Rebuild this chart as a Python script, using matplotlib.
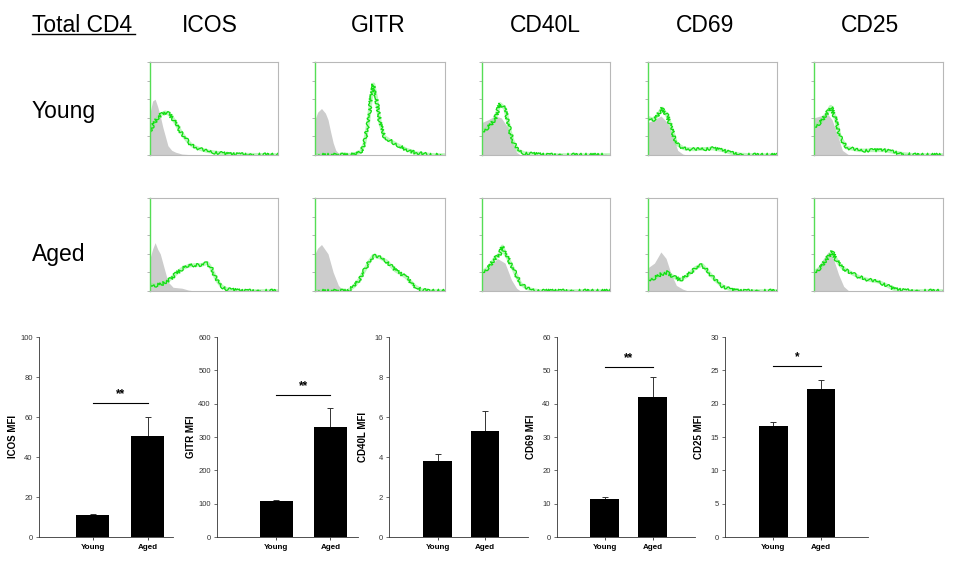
import matplotlib
matplotlib.use('Agg')
import matplotlib.pyplot as plt
from matplotlib.lines import Line2D

plt.rcParams['font.family'] = ['Liberation Sans', 'DejaVu Sans']

W, H = 954, 578

markers = ['ICOS', 'GITR', 'CD40L', 'CD69', 'CD25']
groups = ['Young', 'Aged']

# bar chart values (MFI)
young_mfi = [11.0, 107, 3.8, 11.5, 16.6]
young_err = [0.5, 3, 0.35, 0.6, 0.6]
aged_mfi = [50.5, 330, 5.3, 42.0, 22.2]
aged_err = [9.5, 57, 1.0, 6.0, 1.4]
y_max = [100, 600, 10, 60, 30]
y_step = [20, 100, 2, 10, 5]
sig_marks = ['**', '**', '', '**', '*']
sig_level = [67, 426, 0, 51, 25.6]

# histogram curves (fraction of panel width / height)
icos_young_green_x = [0, .03, .06, .09, .12, .15, .18, .21, .24, .27, .30, .33, .36, .40, .45, .50, .55, .60, .70, .80, 1]
icos_young_green = [.25, .34, .40, .44, .46, .44, .39, .32, .25, .19, .14, .10, .08, .06, .04, .03, .02, .01, .005, .003, 0]
icos_young_grey_x = [0, .02, .04, .06, .08, .10, .12, .14, .17, .20, .25, .35, 1]
icos_young_grey = [.45, .58, .60, .52, .42, .30, .20, .10, .05, .03, .01, 0, 0]

gitr_young_green_x = [0, .20, .30, .35, .38, .41, .43, .45, .47, .50, .53, .57, .62, .70, .78, .85, .92, 1]
gitr_young_green = [0, 0, .005, .03, .12, .35, .60, .76, .62, .35, .20, .16, .12, .06, .02, .008, 0, 0]
gitr_young_grey_x = [0, .02, .05, .08, .10, .12, .14, .16, .18, .22, 1]
gitr_young_grey = [.38, .46, .50, .45, .38, .25, .13, .05, .02, 0, 0]

cd40l_young_green_x = [0, .05, .10, .14, .18, .20, .22, .24, .28, .33, .40, .50, 1]
cd40l_young_green = [.25, .30, .38, .55, .50, .38, .25, .15, .05, .02, .01, 0, 0]
cd40l_young_grey_x = [0, .05, .10, .15, .20, .22, .24, .27, .30, 1]
cd40l_young_grey = [.35, .38, .42, .40, .30, .20, .12, .03, 0, 0]

cd69_young_green_x = [0, .05, .09, .11, .15, .18, .22, .28, .35, .42, .50, .58, .65, .72, .80, 1]
cd69_young_green = [.40, .38, .46, .50, .42, .30, .12, .07, .06, .065, .07, .05, .02, .005, 0, 0]
cd69_young_grey_x = [0, .05, .10, .15, .19, .23, .27, .30, 1]
cd69_young_grey = [.35, .38, .42, .35, .22, .05, .01, 0, 0]

cd25_young_green_x = [0, .05, .10, .13, .17, .20, .25, .35, .45, .55, .62, .70, .78, 1]
cd25_young_green = [.30, .35, .45, .52, .38, .20, .08, .05, .05, .05, .03, .01, 0, 0]
cd25_young_grey_x = [0, .05, .10, .14, .19, .22, .27, 1]
cd25_young_grey = [.40, .42, .45, .38, .18, .05, 0, 0]

icos_aged_green_x = [0, .05, .10, .15, .20, .25, .30, .35, .40, .45, .48, .52, .56, .60, .65, .72, 1]
icos_aged_green = [.07, .06, .08, .12, .18, .24, .27, .28, .28, .30, .24, .12, .05, .02, .01, 0, 0]
icos_aged_grey_x = [0, .02, .04, .06, .08, .11, .14, .18, .25, .30, .35, 1]
icos_aged_grey = [.35, .45, .52, .45, .40, .25, .10, .04, .03, .01, 0, 0]

gitr_aged_green_x = [0, .25, .30, .34, .38, .42, .45, .50, .55, .62, .70, .77, .82, .88, 1]
gitr_aged_green = [0, 0, .05, .12, .22, .32, .38, .36, .32, .22, .15, .05, .01, 0, 0]
gitr_aged_grey_x = [0, .02, .05, .10, .14, .18, .22, 1]
gitr_aged_grey = [.40, .46, .50, .40, .20, .06, 0, 0]

cd40l_aged_green_x = [0, .05, .10, .14, .16, .18, .20, .25, .30, .35, .40, .45, 1]
cd40l_aged_green = [.20, .25, .35, .40, .48, .40, .36, .22, .08, .03, .01, 0, 0]
cd40l_aged_grey_x = [0, .05, .12, .18, .23, .27, .30, 1]
cd40l_aged_grey = [.20, .25, .35, .30, .12, .03, 0, 0]

cd69_aged_green_x = [0, .05, .10, .15, .20, .25, .30, .37, .42, .47, .52, .58, .65, .72, 1]
cd69_aged_green = [.12, .14, .18, .20, .15, .12, .16, .25, .28, .20, .12, .05, .01, 0, 0]
cd69_aged_grey_x = [0, .05, .10, .14, .18, .22, .27, .31, 1]
cd69_aged_grey = [.25, .30, .42, .35, .18, .06, .02, 0, 0]

cd25_aged_green_x = [0, .05, .10, .14, .18, .22, .28, .35, .42, .50, .55, .62, .70, .76, 1]
cd25_aged_green = [.20, .25, .35, .42, .32, .25, .20, .15, .12, .10, .07, .02, .005, 0, 0]
cd25_aged_grey_x = [0, .05, .11, .15, .19, .23, .27, 1]
cd25_aged_grey = [.20, .30, .42, .35, .18, .05, 0, 0]

hist = {
    ('ICOS', 'Young'): (icos_young_green_x, icos_young_green, icos_young_grey_x, icos_young_grey),
    ('GITR', 'Young'): (gitr_young_green_x, gitr_young_green, gitr_young_grey_x, gitr_young_grey),
    ('CD40L', 'Young'): (cd40l_young_green_x, cd40l_young_green, cd40l_young_grey_x, cd40l_young_grey),
    ('CD69', 'Young'): (cd69_young_green_x, cd69_young_green, cd69_young_grey_x, cd69_young_grey),
    ('CD25', 'Young'): (cd25_young_green_x, cd25_young_green, cd25_young_grey_x, cd25_young_grey),
    ('ICOS', 'Aged'): (icos_aged_green_x, icos_aged_green, icos_aged_grey_x, icos_aged_grey),
    ('GITR', 'Aged'): (gitr_aged_green_x, gitr_aged_green, gitr_aged_grey_x, gitr_aged_grey),
    ('CD40L', 'Aged'): (cd40l_aged_green_x, cd40l_aged_green, cd40l_aged_grey_x, cd40l_aged_grey),
    ('CD69', 'Aged'): (cd69_aged_green_x, cd69_aged_green, cd69_aged_grey_x, cd69_aged_grey),
    ('CD25', 'Aged'): (cd25_aged_green_x, cd25_aged_green, cd25_aged_grey_x, cd25_aged_grey),
}

# layout in pixels
hist_cols = [(150, 278), (315, 445), (482, 610), (648, 777), (814, 943)]
hist_rows = [(62, 155), (198, 291)]
header_x = [210, 378, 545, 705, 870]
bar_cols = [(39, 173), (217, 358), (389, 528), (557, 695), (725, 868)]
bar_xlim = [(0.02, 2.46), (-0.1, 2.51), (-0.02, 2.9), (0.01, 2.88), (-0.02, 2.99)]
bar_top, bar_bot = 337, 537


def px_axes(fig, l, t, r, b):
    return fig.add_axes([l / W, 1 - b / H, (r - l) / W, (b - t) / H])


fig = plt.figure(figsize=(W / 100, H / 100), dpi=100)

# headers
fig.text(32 / W, 1 - 32 / H, 'Total CD4', fontsize=16.5, va='baseline', ha='left')
fig.add_artist(Line2D([32 / W, 135 / W], [1 - 34 / H, 1 - 34 / H], color='black', lw=1))
for m, x in zip(markers, header_x):
    fig.text(x / W, 1 - 32 / H, m, fontsize=16.5, va='baseline', ha='center')
fig.text(32 / W, 1 - 118 / H, 'Young', fontsize=16.5, va='baseline', ha='left')
fig.text(32 / W, 1 - 261 / H, 'Aged', fontsize=16.5, va='baseline', ha='left')

# histograms
for r, g in enumerate(groups):
    t, b = hist_rows[r]
    for c, m in enumerate(markers):
        l, rr = hist_cols[c]
        ax = px_axes(fig, l, t, rr, b)
        gx, gy, ix, iy = hist[(m, g)]
        poly = ax.fill_between(ix, 0, iy, color='#cccccc', lw=0)
        poly.set_sketch_params(scale=1.5, length=1.5, randomness=2)
        # soft halo + jagged trace, like a noisy cytometry histogram
        ax.plot(gx, gy, color='#8ef08e', lw=2.6, alpha=0.6, solid_joinstyle='round')
        ln, = ax.plot(gx, gy, color='#11dd11', lw=0.9)
        ln.set_sketch_params(scale=1.8, length=2.5, randomness=6)
        ax.set_xlim(0, 1)
        ax.set_ylim(0, 1)
        for s in ['top', 'right', 'bottom']:
            ax.spines[s].set_color('#b8b8b8')
            ax.spines[s].set_linewidth(0.8)
        ax.spines['left'].set_color('#55dd55')
        ax.spines['left'].set_linewidth(1.0)
        ax.set_yticks([0, .2, .4, .6, .8, 1])
        ax.set_xticks([])
        ax.tick_params(axis='y', length=2, width=0.5, color='#999999', labelleft=False)

# bar charts
for i, m in enumerate(markers):
    l, r = bar_cols[i]
    ax = px_axes(fig, l, bar_top, r, bar_bot)
    vals = [young_mfi[i], aged_mfi[i]]
    errs = [young_err[i], aged_err[i]]
    ax.bar([1, 2], vals, width=0.6, color='black', zorder=2)
    ax.errorbar([1, 2], vals, yerr=[[0, 0], errs], fmt='none', ecolor='#333333',
                elinewidth=0.7, capsize=2, capthick=0.7, zorder=1)
    ax.set_xlim(*bar_xlim[i])
    ax.set_ylim(0, y_max[i])
    ax.set_yticks(range(0, y_max[i] + 1, y_step[i]))
    ax.set_xticks([1, 2])
    ax.set_xticklabels(groups, fontsize=5.8, fontweight='bold')
    ax.tick_params(axis='y', labelsize=5.5, length=2.5, width=0.5, pad=2, colors='#333333')
    ax.tick_params(axis='x', length=2, width=0.5, pad=3)
    for s in ['top', 'right']:
        ax.spines[s].set_visible(False)
    for s in ['left', 'bottom']:
        ax.spines[s].set_linewidth(0.6)
        ax.spines[s].set_color('#333333')
    ax.set_ylabel(m + ' MFI', fontsize=7, fontweight='bold')
    ax.yaxis.set_label_coords(-21 / (r - l), 0.5)
    if sig_marks[i]:
        ax.plot([1, 2], [sig_level[i]] * 2, color='black', lw=0.8)
        ax.text(1.5, sig_level[i] + y_max[i] * 0.015, sig_marks[i], ha='center', va='bottom',
                fontsize=8.5, fontweight='bold')

fig.savefig('out.png', dpi=100)
